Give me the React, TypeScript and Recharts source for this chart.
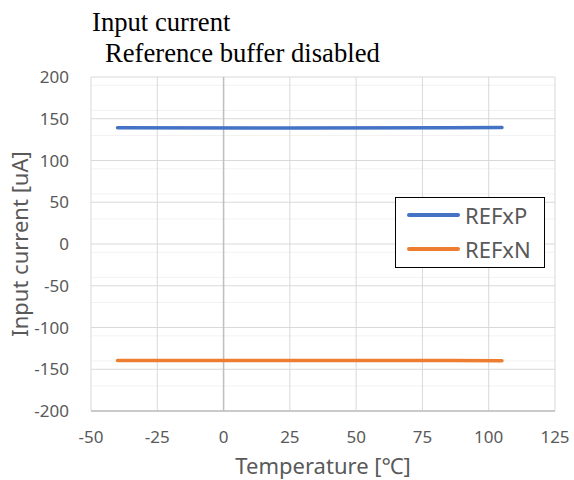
import React from 'react';
import { LineChart, Line, XAxis, YAxis, CartesianGrid, ReferenceLine } from 'recharts';

const temperatures = [-40, 25, 85, 105];
const refxP = [139.2, 139.0, 139.3, 139.4];
const refxN = [-139.6, -139.4, -139.6, -139.7];
const xTicks = [-50, -25, 0, 25, 50, 75, 100, 125];
const yTicks = [-200, -150, -100, -50, 0, 50, 100, 150, 200];
const yMinor = [-190, -180, -170, -160, -140, -130, -120, -110, -90, -80, -70, -60, -40, -30, -20, -10, 10, 20, 30, 40, 60, 70, 80, 90, 110, 120, 130, 140, 160, 170, 180, 190];

const data = temperatures.map((t, i) => ({ t, REFxP: refxP[i], REFxN: refxN[i] }));

const TICK_FONT = '"Noto Sans", sans-serif';
const SERIF = '"Liberation Serif", "Times New Roman", serif';

const LegendBox = () => (
  <div
    style={{
      position: 'absolute',
      left: 395,
      top: 197,
      width: 150,
      height: 71,
      border: '1.5px solid #000',
      background: '#fff',
      boxSizing: 'border-box',
      fontFamily: TICK_FONT,
      fontSize: 22,
      color: '#595959',
    }}
  >
    {[
      { name: 'REFxP', color: '#4472C4', top: 3 },
      { name: 'REFxN', color: '#ED7D31', top: 37 },
    ].map((e) => (
      <div key={e.name} style={{ position: 'absolute', left: 11, top: e.top, display: 'flex', alignItems: 'center', height: 28, lineHeight: '28px' }}>
        <div style={{ width: 53, height: 3.5, background: e.color, borderRadius: 2 }} />
        <span style={{ marginLeft: 5 }}>{e.name}</span>
      </div>
    ))}
  </div>
);

export default function App() {
  return (
    <div style={{ position: 'absolute', left: 0, top: 0, width: 574, height: 480, background: '#fff' }}>
      <LineChart width={574} height={480} data={data} margin={{ top: 77, right: 19, bottom: 0, left: 0 }}>
        <CartesianGrid
          stroke="#F2F2F2"
          vertical={false}
          horizontalValues={yMinor}
        />
        <CartesianGrid
          stroke="#D9D9D9"
          horizontalValues={yTicks}
          verticalValues={xTicks}
        />
        <XAxis
          dataKey="t"
          type="number"
          domain={[-50, 125]}
          ticks={xTicks}
          axisLine={{ stroke: '#BFBFBF', strokeWidth: 1.5 }}
          tickLine={false}
          height={69}
          tick={{ fill: '#595959', fontSize: 17, fontFamily: TICK_FONT }}
          tickMargin={14}
        />
        <YAxis
          type="number"
          domain={[-200, 200]}
          ticks={yTicks}
          axisLine={false}
          tickLine={false}
          width={91}
          tick={{ fill: '#595959', fontSize: 17, fontFamily: TICK_FONT }}
          tickMargin={16}
        />
        <ReferenceLine x={0} stroke="#BFBFBF" strokeWidth={1.5} />
        <Line type="linear" dataKey="REFxP" stroke="#4472C4" strokeWidth={3.5} dot={false} isAnimationActive={false} strokeLinecap="round" />
        <Line type="linear" dataKey="REFxN" stroke="#ED7D31" strokeWidth={3.5} dot={false} isAnimationActive={false} strokeLinecap="round" />
        <text x={92} y={31} fontFamily={SERIF} fontSize={26.67} fill="#000">Input current</text>
        <text x={105} y={62} fontFamily={SERIF} fontSize={26.67} fill="#000">Reference buffer disabled</text>
        <text x={323} y={474} textAnchor="middle" fontFamily={TICK_FONT} fontSize={22} fill="#595959">Temperature [℃]</text>
        <text x={28} y={244} textAnchor="middle" transform="rotate(-90 28 244)" fontFamily={TICK_FONT} fontSize={22} fill="#595959">Input current [uA]</text>
      </LineChart>
      <LegendBox />
    </div>
  );
}
